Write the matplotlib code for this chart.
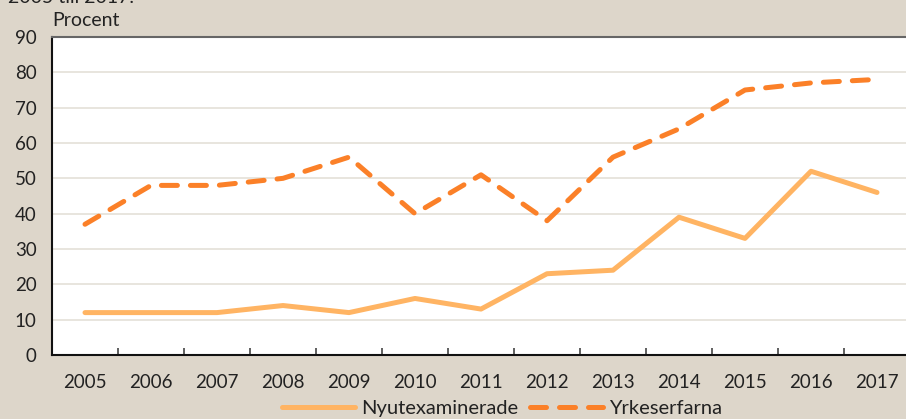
import matplotlib.pyplot as plt
import numpy as np

years = ["2005", "2006", "2007", "2008", "2009", "2010", "2011",
         "2012", "2013", "2014", "2015", "2016", "2017"]
nyutexaminerade = [12, 12, 12, 14, 12, 16, 13, 23, 24, 39, 33, 52, 46]
yrkeserfarna = [37, 48, 48, 50, 56, 40, 51, 38, 56, 64, 75, 77, 78]

BG = "#ddd6ca"
LIGHT = "#ffb463"
DARK = "#fb8028"
TEXT = "#222222"

plt.rcParams["font.family"] = ["Lato", "DejaVu Sans"]

fig = plt.figure(figsize=(9.06, 4.19), dpi=100, facecolor=BG)
ax = fig.add_axes([52 / 906, 64 / 419, 858 / 906, 318 / 419])
ax.set_facecolor("white")

x = np.arange(len(years))
ax.plot(x, nyutexaminerade, color=LIGHT, lw=3.6, solid_capstyle="round",
        label="Nyutexaminerade")
ax.plot(x, yrkeserfarna, color=DARK, lw=3.6, dash_capstyle="round",
        linestyle=(0, (3.2, 2.6)), label="Yrkeserfarna")

ax.set_xlim(-0.5, len(years) - 0.5)
ax.set_ylim(0, 90)
ax.set_yticks(range(0, 91, 10))
ax.yaxis.grid(True, color="#e4e0d8", lw=1.2)
ax.set_axisbelow(True)

ax.set_xticks(x)
ax.set_xticklabels(years)
ax.set_xticks(np.arange(0.5, len(years) - 0.5, 1), minor=True)
ax.tick_params(axis="x", which="major", length=0, pad=14, labelsize=13.5,
               colors=TEXT)
ax.tick_params(axis="x", which="minor", direction="in", length=5,
               width=1.2, color="#444444")
ax.tick_params(axis="y", length=0, pad=11, labelsize=13.5, colors=TEXT)

ax.spines["left"].set_color("#111111")
ax.spines["left"].set_linewidth(1.5)
ax.spines["bottom"].set_color("#111111")
ax.spines["bottom"].set_linewidth(1.5)
ax.spines["top"].set_color("#666666")
ax.spines["top"].set_linewidth(1.5)
ax.spines["right"].set_visible(False)

fig.text(52 / 906, 1 - 21 / 419, "Procent", fontsize=14, color=TEXT,
         va="center", ha="left")
fig.text(8 / 906, 1 + 2 / 419, "2005 till 2017.", fontsize=14,
         color=TEXT, va="center", ha="left")

fig.legend(loc="center", bbox_to_anchor=(502 / 906, 1 - 408 / 419),
           ncol=2, frameon=False, fontsize=14.5, handlelength=3.6,
           columnspacing=0.6, handletextpad=0.3, labelcolor=TEXT)

fig.savefig("out.png", dpi=100, facecolor=BG)
